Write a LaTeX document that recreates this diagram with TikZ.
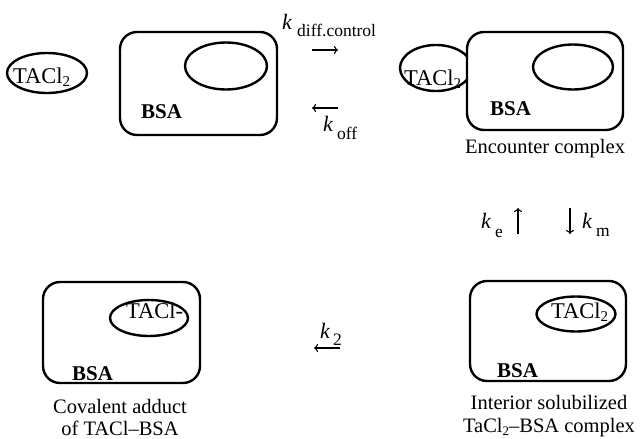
\documentclass[tikz,border=0pt]{standalone}
\usepackage{fontspec}
\setmainfont{Liberation Serif}
\usetikzlibrary{shapes.geometric,arrows.meta}

% lowered subscript in text
\newcommand{\lowidx}[2][15]{\raisebox{-0.35ex}{\fontsize{#1}{#1}\selectfont #2}}

\tikzset{
  protein/.style={draw, line width=2.4pt, rounded corners=17pt, fill=white,
    inner sep=0pt},
  pocket/.style={draw, ellipse, line width=2.4pt, inner sep=0pt},
  lbl/.style={font=\fontsize{22.5}{24}\selectfont, inner sep=0pt, anchor=base west},
  bsa/.style={font=\fontsize{21}{24}\selectfont\bfseries, inner sep=0pt, anchor=base west},
  captext/.style={font=\fontsize{20.5}{24}\selectfont, inner sep=0pt, anchor=base},
  kk/.style={font=\fontsize{22}{24}\selectfont\itshape, inner sep=0pt, anchor=base west},
  ksub/.style={font=\fontsize{17.5}{20}\selectfont, inner sep=0pt, anchor=base west},
  rxn/.style={line width=1.1pt, -{To[length=4pt,width=8pt]}}
}

\begin{document}
\begin{tikzpicture}[x=1pt,y=-1pt]
\useasboundingbox (0,0) rectangle (641,439);

% free TACl2
\node[pocket, minimum width=80pt, minimum height=40pt] (free) at (47,73) {};
\node[lbl] (freet) at (13,83) {TACl\lowidx{2}};

% free BSA with its empty pocket
\node[protein, minimum width=157pt, minimum height=103pt] (bsa1) at (198.5,83.5) {};
\node[pocket, minimum width=82pt, minimum height=47pt] (pk1) at (226,66) {};
\node[bsa] (bsa1t) at (141,118) {BSA};

% forward / reverse binding
\node[kk] (kdiff) at (282,29) {k};
\node[ksub] (kdiffs) at (297,37) {diff.control};
\coordinate (f1) at (312,50);
\coordinate (f2) at (338,50);
\draw[rxn] (f1) -- (f2);
\coordinate (r1) at (338,108);
\coordinate (r2) at (312,108);
\draw[rxn] (r1) -- (r2);
\node[kk] (koff) at (323,131) {k};
\node[ksub] (koffs) at (337,139) {off};

% encounter complex
\node[pocket, minimum width=72pt, minimum height=46pt] (enc) at (436,68) {};
\node[protein, minimum width=156pt, minimum height=98pt] (bsa2) at (545,81) {};
\node[pocket, minimum width=80pt, minimum height=45pt] (pk2) at (573,67) {};
\node[lbl] (enct) at (404,85) {TACl\lowidx{2}};
\node[bsa] (bsa2t) at (490,115) {BSA};
\node[captext] (capenc) at (545,153) {Encounter complex};

% entry / exit of the pocket
\node[kk] (ke) at (481,228) {k};
\node[ksub] (kes) at (495,237) {e};
\coordinate (u1) at (518,234);
\coordinate (u2) at (518,208);
\draw[rxn] (u1) -- (u2);
\coordinate (d1) at (570,208);
\coordinate (d2) at (570,234);
\draw[rxn] (d1) -- (d2);
\node[kk] (km) at (582,228) {k};
\node[ksub] (kms) at (596,236) {m};

% interior solubilized complex
\node[protein, minimum width=156pt, minimum height=100pt] (bsa4) at (548,331) {};
\node[pocket, minimum width=79pt, minimum height=35pt] (pk4) at (576,314) {};
\node[lbl] (pk4t) at (551,318) {TACl\lowidx{2}};
\node[bsa] (bsa4t) at (497,377) {BSA};
\node[captext] (capint1) at (549,409) {Interior solubilized};
\node[captext] (capint2) at (549,432) {TaCl\lowidx[13]{2}--BSA complex};

% covalent step
\node[kk] (k2) at (320,338) {k};
\node[ksub] (k2s) at (333,345) {2};
\coordinate (c1) at (340,348);
\coordinate (c2) at (314,348);
\draw[rxn] (c1) -- (c2);

% covalent adduct
\node[protein, minimum width=157pt, minimum height=101pt] (bsa3) at (121.5,332.5) {};
\node[pocket, minimum width=78pt, minimum height=36pt] (pk3) at (149,318) {};
\node[lbl] (pk3t) at (126,318) {TACl-};
\node[bsa] (bsa3t) at (72,380) {BSA};
\node[captext] (capcov1) at (120,413) {Covalent adduct};
\node[captext] (capcov2) at (120,435) {of TACl--BSA};
\end{tikzpicture}
\end{document}
